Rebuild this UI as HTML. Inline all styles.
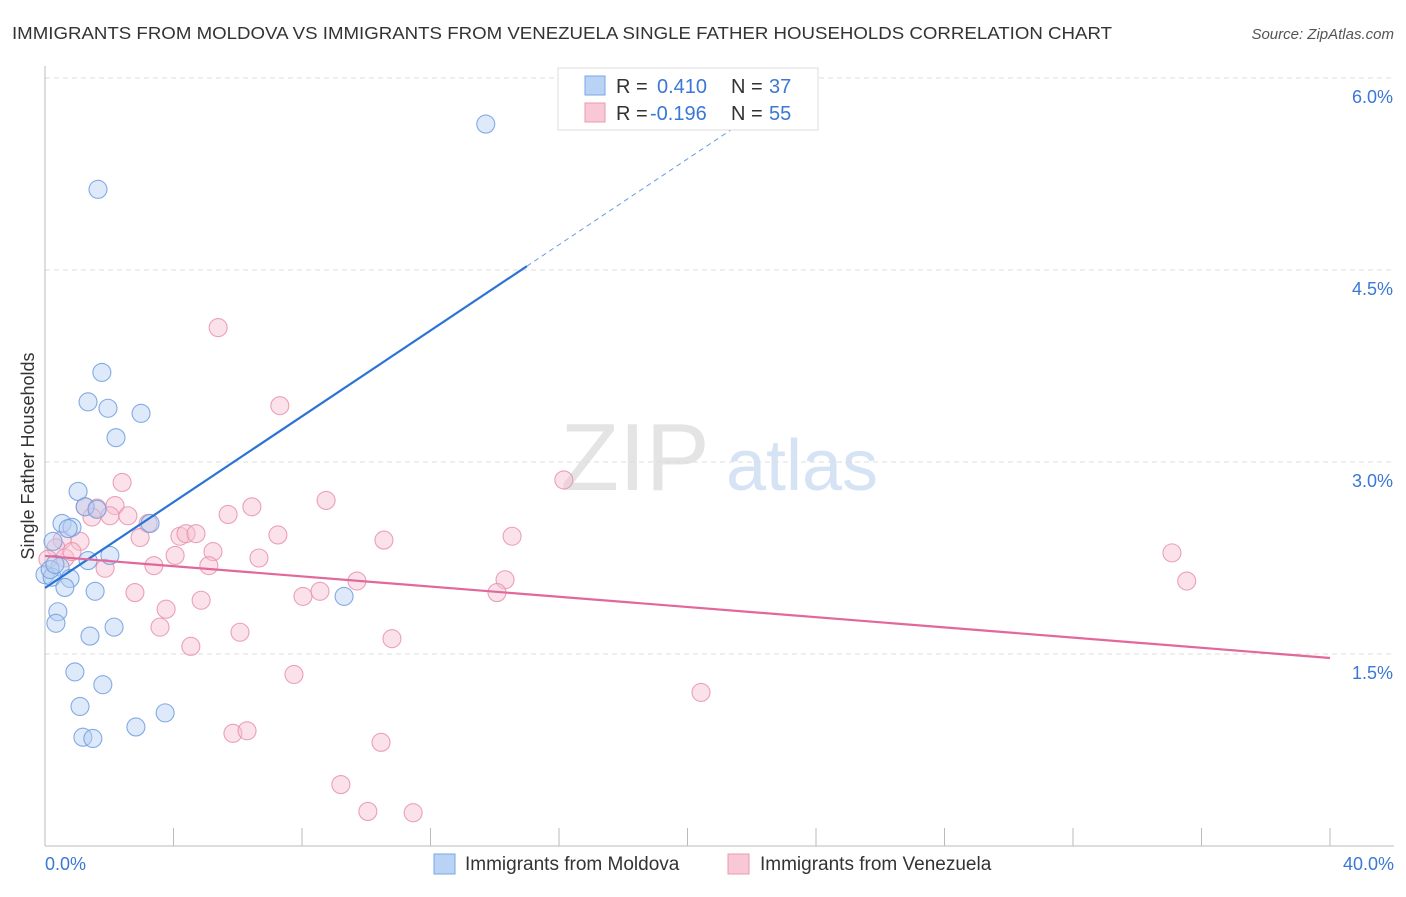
<!DOCTYPE html>
<html><head><meta charset="utf-8"><style>
body{margin:0;background:#fff;font-family:"Liberation Sans",sans-serif;}
svg text{font-family:"Liberation Sans",sans-serif;}
</style></head><body>
<svg id="chart" width="1406" height="892" xmlns="http://www.w3.org/2000/svg">
<text x="12" y="39" font-size="17.5" fill="#333" textLength="1100" lengthAdjust="spacingAndGlyphs">IMMIGRANTS FROM MOLDOVA VS IMMIGRANTS FROM VENEZUELA SINGLE FATHER HOUSEHOLDS CORRELATION CHART</text>
<text x="1394" y="39" font-size="15" fill="#555" text-anchor="end" font-style="italic">Source: ZipAtlas.com</text>
<text transform="translate(34,456) rotate(-90)" font-size="18" fill="#333" text-anchor="middle">Single Father Households</text>
<g>
<text x="635" y="490" font-size="96" fill="#e4e4e4" text-anchor="middle" font-family="Liberation Serif">ZIP</text>
<text x="802" y="490" font-size="72" fill="#d5e3f5" text-anchor="middle">atlas</text>
</g>
<g id="grid"></g><g id="axes"></g><g id="marks"></g>
<g>
<rect x="558" y="68" width="260" height="62" fill="#fff" stroke="#ddd"/>
<rect x="585" y="76" width="20" height="19" fill="#b9d3f5" stroke="#7aa6e6"/>
<rect x="585" y="103" width="20" height="19" fill="#f9c8d6" stroke="#ec98b0"/>
<text x="616" y="93" font-size="20" fill="#333">R = </text><text x="657" y="93" font-size="20" fill="#3a78d4">0.410</text>
<text x="731" y="93" font-size="20" fill="#333">N = </text><text x="769" y="93" font-size="20" fill="#3a78d4">37</text>
<text x="616" y="120" font-size="20" fill="#333">R = </text><text x="650" y="120" font-size="20" fill="#3a78d4">-0.196</text>
<text x="731" y="120" font-size="20" fill="#333">N = </text><text x="769" y="120" font-size="20" fill="#3a78d4">55</text>
</g>
<g>
<rect x="434" y="854" width="21" height="20" fill="#b9d3f5" stroke="#7aa6e6"/>
<text x="465" y="870" font-size="19" fill="#333">Immigrants from Moldova</text>
<rect x="728" y="854" width="21" height="20" fill="#f9c8d6" stroke="#ec98b0"/>
<text x="760" y="870" font-size="19" fill="#333">Immigrants from Venezuela</text>
</g>
</svg>
<script>
const xTicks=[0,4,8,12,16,20,24,28,32,36,40];
const yTicks=[1.5,3.0,4.5,6.0];
const yTickLabels=["1.5%","3.0%","4.5%","6.0%"];
const xEndLabels=["0.0%","40.0%"];
const moldovaX=[13.72,1.65,1.77,1.34,1.96,2.99,2.21,1.03,1.25,1.62,0.53,0.84,0.72,3.27,0.25,2.02,1.34,0.47,0.0,0.22,0.78,1.56,0.62,9.31,0.40,0.34,2.15,1.40,0.93,1.80,1.09,3.74,2.83,1.18,1.49,0.16,0.31];
const moldovaY=[5.64,5.13,3.70,3.47,3.42,3.38,3.19,2.77,2.65,2.63,2.52,2.49,2.48,2.52,2.38,2.27,2.23,2.18,2.12,2.10,2.09,1.99,2.02,1.95,1.83,1.74,1.71,1.64,1.36,1.26,1.09,1.04,0.93,0.85,0.84,2.16,2.20];
const venezuelaX=[5.39,7.31,2.40,8.75,16.15,1.25,1.62,2.18,1.46,2.02,2.58,5.70,6.44,3.21,2.96,4.20,4.39,4.70,7.25,14.54,10.55,0.53,1.09,0.34,0.62,0.84,5.23,4.05,6.66,35.08,3.39,5.10,1.87,9.71,14.32,35.54,8.56,8.03,2.80,14.07,4.86,3.77,3.58,6.07,10.80,4.54,7.75,20.42,5.85,6.29,10.46,9.21,10.05,11.46,0.09];
const venezuelaY=[4.05,3.44,2.84,2.70,2.86,2.65,2.64,2.66,2.57,2.58,2.58,2.59,2.65,2.52,2.41,2.42,2.44,2.44,2.43,2.42,2.39,2.39,2.38,2.33,2.25,2.30,2.30,2.27,2.25,2.29,2.19,2.19,2.17,2.07,2.08,2.07,1.99,1.95,1.98,1.98,1.92,1.85,1.71,1.67,1.62,1.56,1.34,1.20,0.88,0.90,0.81,0.48,0.27,0.26,2.24];
const moldovaTrend=[2.016,0.1676];
const venezuelaTrend=[2.266,-0.01993];
const X0=45,X1=1330,Y0=846;
const sx=v=>X0+(v/40)*(X1-X0);
const sy=v=>Y0-v*128;
const NS="http://www.w3.org/2000/svg";
function mk(tag,attrs,parent){const e=document.createElementNS(NS,tag);for(const k in attrs)e.setAttribute(k,attrs[k]);parent.appendChild(e);return e;}
const grid=document.getElementById('grid'),axes=document.getElementById('axes'),marks=document.getElementById('marks');
yTicks.forEach((t,i)=>{
 const l=mk('line',{x1:X0,x2:1394,y1:sy(t),y2:sy(t),stroke:'#ddd','stroke-dasharray':'5,4'},grid);
 
 
 const tx=mk('text',{x:1393,y:sy(t)+25,'font-size':18,fill:'#3a78d4','text-anchor':'end'},axes);
 tx.textContent=yTickLabels[i];
 
 
});
const ax=mk('line',{x1:X0,x2:X0,y1:66,y2:846,stroke:'#bbb'},axes);


const bx=mk('line',{x1:X0,x2:1394,y1:846,y2:846,stroke:'#bbb'},axes);


xTicks.forEach(t=>{
 const l=mk('line',{x1:sx(t),x2:sx(t),y1:828,y2:846,stroke:'#bbb'},axes);
 
 
});
[[0,'start',45],[40,'end',1394]].forEach((d,i)=>{
 const tx=mk('text',{x:d[2],y:870,'font-size':18,fill:'#3a78d4','text-anchor':d[1]},axes);
 tx.textContent=xEndLabels[i];
 
 
});
function dots(xs,ys,fill,stroke,name){
 xs.forEach((x,i)=>{
  const c=mk('circle',{cx:sx(x),cy:sy(ys[i]),r:9,fill:fill,'fill-opacity':0.45,stroke:stroke,'stroke-width':1.1,'stroke-opacity':0.85},marks);
  
  
 });
}
dots(venezuelaX,venezuelaY,'#f7bfd0','#e892ad','venezuela-point');
dots(moldovaX,moldovaY,'#b5cff2','#6e9ee0','moldova-point');
const mf=x=>moldovaTrend[0]+moldovaTrend[1]*x;
const l1=mk('line',{x1:sx(0),y1:sy(mf(0)),x2:sx(15),y2:sy(mf(15)),stroke:'#2a74d6','stroke-width':2.2},marks);


const l2=mk('line',{x1:sx(15),y1:sy(mf(15)),x2:sx(22.5),y2:sy(mf(22.5)),stroke:'#2a74d6','stroke-width':1,'stroke-dasharray':'5,4','stroke-opacity':0.7},marks);


const vf=x=>venezuelaTrend[0]+venezuelaTrend[1]*x;
const l3=mk('line',{x1:sx(0),y1:sy(vf(0)),x2:sx(40),y2:sy(vf(40)),stroke:'#e2679a','stroke-width':2.2},marks);


</script>
</body></html>
